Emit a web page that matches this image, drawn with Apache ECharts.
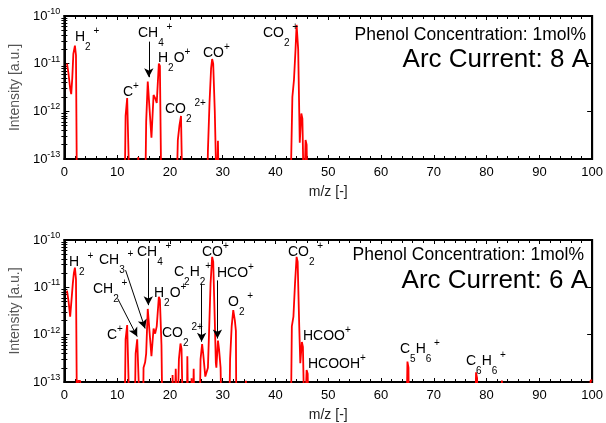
<!DOCTYPE html>
<html><head><meta charset="utf-8">
<script src="https://cdn.jsdelivr.net/npm/echarts@6/dist/echarts.min.js"></script>
<style>html,body{margin:0;padding:0;background:#fff}#c{width:606px;height:423px}</style>
</head><body><div id="c"></div>
<script>
// ---- data: Arc current 8 A (top panel) ----
const mz8 = [0.5,0.8,1.1,1.3,1.5,1.7,2.0,2.2,2.4,
  11.4,11.6,11.9,12.1,12.4,13.8,14.0,14.2,
  15.3,15.5,15.8,16.1,16.5,16.9,17.2,17.5,17.9,18.1,18.4,
  21.2,21.5,21.8,22.1,22.4,
  27.0,27.2,27.5,27.8,28.0,28.2,28.5,28.7,28.9,29.1,29.3,
  42.8,43.2,43.5,43.8,44.0,44.3,44.6,44.9,45.1,45.4,45.7,45.9,46.1];
const int8 = [1.0e-11,6e-12,3.0e-12,2.3e-12,5e-12,1.6e-11,2.4e-11,1.5e-11,1e-14,
  1e-14,8e-13,1.9e-12,1.8e-12,1e-14,1e-14,1.1e-13,1e-14,
  1e-14,6e-13,4.2e-12,4.3e-12,2.8e-13,2.2e-12,1.9e-12,1.5e-12,1.0e-11,9e-12,1e-14,
  1e-14,2.5e-13,5e-13,8e-13,1e-14,
  1e-14,1.5e-13,1.5e-12,8e-12,1.25e-11,1e-11,1e-12,1e-13,1e-14,2.4e-13,1e-14,
  1e-14,2e-12,4.5e-12,2e-11,6.5e-11,2e-11,2.2e-13,9e-13,7e-13,1e-14,2.5e-13,2.0e-13,1e-14];

// ---- data: Arc current 6 A (bottom panel) ----
const mz6 = [0.5,0.8,1.1,1.4,1.6,1.8,2.0,2.2,2.4,2.6,3.0,3.1,
  11.4,11.6,11.9,12.1,12.4,13.3,13.5,13.8,14.1,14.4,
  14.9,15.0,15.3,15.5,15.8,16.0,16.5,16.9,17.2,17.5,17.9,18.1,18.4,18.6,
  20.4,20.5,20.7,20.8,21.0,21.1,21.3,21.4,
  21.5,21.7,22.0,22.2,22.5,23.2,23.3,23.5,24.0,24.1,24.3,24.5,24.7,
  25.6,25.8,26.1,26.3,26.7,27.0,27.2,27.4,27.7,28.0,28.2,28.5,28.7,28.8,29.1,29.3,29.6,29.8,
  31.2,31.4,31.7,32.0,32.3,32.5,32.6,34.3,34.4,34.6,34.7,
  42.9,43.1,43.4,43.7,44.0,44.2,44.5,44.7,45.0,45.2,45.5,45.7,45.9,46.1,46.3,
  64.8,65.0,65.2,65.3,77.8,78.0,78.2,78.3,82.8,82.9,83.1,83.2,99.6,99.7,100];
const int6 = [8.5e-12,5e-12,2.4e-12,2.3e-12,1.2e-11,2.0e-11,2.6e-11,1.5e-11,1e-14,1.06e-13,1.06e-13,1e-14,
  1e-14,8e-13,1.6e-12,1.5e-12,1e-14,1e-14,4e-13,8e-13,7.5e-13,1e-14,
  1e-14,2.0e-13,2.6e-13,4e-13,3.5e-12,3.6e-12,3.5e-13,1.35e-12,1.05e-12,1.5e-12,6.3e-12,5.5e-12,6e-13,1e-14,
  1e-14,1.4e-13,1.4e-13,1e-14,1e-14,1.9e-13,1.9e-13,1e-14,
  1e-14,3e-13,6.5e-13,5e-13,1e-14,1e-14,3.5e-13,1e-14,1e-14,1.2e-13,1e-14,1.9e-13,1e-14,
  1e-14,3e-13,6.3e-13,4e-13,1.3e-13,1.2e-13,2e-13,1e-12,1.2e-11,4.4e-11,3.5e-11,2e-12,2.5e-13,2e-13,7.5e-13,5e-13,2e-13,1e-14,
  1e-14,3e-13,1.5e-12,3.3e-12,2e-12,1.2e-12,1e-14,1e-14,1.06e-13,1.06e-13,1e-14,
  1e-14,1.5e-12,2.4e-12,1.2e-11,4.4e-11,3.5e-11,1.5e-12,2.5e-13,7e-13,5.5e-13,1e-14,1e-14,1.8e-13,1.5e-13,1e-14,
  1e-14,2.7e-13,2.0e-13,1e-14,1e-14,1.6e-13,1.2e-13,1e-14,1e-14,1.08e-13,1.08e-13,1e-14,1e-14,1.08e-13,1.08e-13];

// tick labels
const xTickStep = 10;
const yDecades = [-13, -12, -11, -10];
const yMinorTicks = [];
for (let d = -13; d < -10; d++) for (let k = 2; k <= 9; k++) yMinorTicks.push(k * Math.pow(10, d));

const FONT = 'Liberation Sans, Arial, Helvetica, sans-serif';
const chart = echarts.init(document.getElementById('c'), null, {renderer: 'canvas'});

const grids = [
  {left: 63, right: 8, top: 16, height: 143},
  {left: 63, right: 8, top: 240, height: 144}
];

function xAxes(gi) {
  const base = {gridIndex: gi, type: 'value', min: 0, max: 100, interval: xTickStep,
    splitLine: {show: false},
    axisLine: {show: true, onZero: false, lineStyle: {color: '#000', width: 2}},
    axisTick: {show: true, inside: true, length: 4, lineStyle: {color: '#000', width: 1}},
    minorTick: {show: true, splitNumber: 5, length: 3, lineStyle: {color: '#000', width: 1}}};
  return [
    Object.assign({}, base, {position: 'bottom', name: 'm/z [-]', nameLocation: 'middle', nameGap: 26,
      nameTextStyle: {fontFamily: FONT, fontSize: 14, color: '#222'},
      axisLabel: {show: true, margin: 7, fontFamily: FONT, fontSize: 13, color: '#000'}}),
    Object.assign({}, base, {position: 'top', axisLabel: {show: false}})
  ];
}
function yAxes(gi) {
  const base = {gridIndex: gi, type: 'log', logBase: 10, min: 1e-13, max: 1e-10,
    splitLine: {show: false},
    axisLine: {show: true, onZero: false, lineStyle: {color: '#000', width: 2}},
    axisTick: {show: true, inside: true, length: 5, lineStyle: {color: '#000', width: 1}}};
  const minor = {gridIndex: gi, type: 'log', logBase: 10, min: 1e-13, max: 1e-10,
    splitLine: {show: false}, axisLine: {show: false},
    axisLabel: {show: false},
    axisTick: {show: true, inside: true, length: 3, customValues: yMinorTicks, lineStyle: {color: '#000', width: 1}}};
  return [
    Object.assign({}, base, {position: 'left', name: 'Intensity [a.u.]', nameLocation: 'middle', nameGap: 37,
      nameTextStyle: {fontFamily: FONT, fontSize: 14, color: '#555'},
      axisLabel: {show: true, margin: 4, fontFamily: FONT, fontSize: 13, color: '#000',
        formatter: v => { const e = Math.round(Math.log10(v)); return yDecades.indexOf(e) >= 0 ? '10{s|' + e + '}' : ''; },
        rich: {s: {fontSize: 9, fontFamily: FONT, verticalAlign: 'top', lineHeight: 18}}}}),
    Object.assign({}, base, {position: 'right', axisLabel: {show: false}}),
    Object.assign({}, minor, {position: 'left'}),
    Object.assign({}, minor, {position: 'right'})
  ];
}

function arrow(x1, y1, x2, y2) { return [{coord: [x1, y1]}, {coord: [x2, y2]}]; }

const series = [
  {type: 'line', xAxisIndex: 0, yAxisIndex: 0, data: mz8.map((m, i) => [m, int8[i]]),
   showSymbol: false, symbol: 'none', clip: true, lineStyle: {color: '#ff0000', width: 1.8}, silent: true,
   markLine: {silent: true, symbol: ['none', 'arrow'], symbolSize: [7, 9], label: {show: false},
     lineStyle: {color: '#000', width: 1, type: 'solid'},
     data: [arrow(16, 2.9e-11, 16, 5.2e-12)]}},
  {type: 'line', xAxisIndex: 2, yAxisIndex: 4, data: mz6.map((m, i) => [m, int6[i]]),
   showSymbol: false, symbol: 'none', clip: true, lineStyle: {color: '#ff0000', width: 1.8}, silent: true,
   markLine: {silent: true, symbol: ['none', 'arrow'], symbolSize: [7, 9], label: {show: false},
     lineStyle: {color: '#000', width: 1, type: 'solid'},
     data: [arrow(11.6, 2.3e-11, 15.3, 1.35e-12),
            arrow(10.1, 5.8e-12, 13.8, 9.1e-13),
            arrow(15.9, 4.1e-11, 15.9, 4.2e-12),
            arrow(26.0, 1.2e-11, 26.0, 7.1e-13),
            arrow(29.0, 1.4e-11, 29.0, 8.3e-13)]}}
];

const LH = 30;
const RICH = {
  b: {fontSize: 14, fontFamily: FONT, color: '#000', lineHeight: LH, verticalAlign: 'middle'},
  d: {fontSize: 10, fontFamily: FONT, color: '#000', lineHeight: LH, verticalAlign: 'bottom'},
  u: {fontSize: 10, fontFamily: FONT, color: '#000', lineHeight: LH, verticalAlign: 'top', padding: [4, 0, 0, 0]},
  up: {fontSize: 10, fontFamily: FONT, color: '#000', lineHeight: LH, verticalAlign: 'top', padding: [4, 0, 0, 3]}
};
function lab(x, y, text) {
  return {type: 'text', left: x, top: y - LH / 2, z: 100, silent: true,
    style: {text: text, rich: RICH, fill: '#000', font: '14px ' + FONT}};
}
function title(x, y, size, text) {
  return {type: 'text', right: 606 - x, top: y - size * 0.6, z: 100, silent: true,
    style: {text: text, fill: '#000', font: size + 'px ' + FONT}};
}

const graphic = [
  title(586, 37, 17.5, 'Phenol Concentration: 1mol%'),
  title(589, 62, 26, 'Arc Current: 8 A'),
  title(584, 257, 17.5, 'Phenol Concentration: 1mol%'),
  title(588, 283, 26, 'Arc Current: 6 A'),
  // top labels
  lab(75, 37, '{b|H}{d|2}{u| +}'),
  lab(138, 33, '{b|CH}{d|4}{u| +}'),
  lab(123, 92, '{b|C}{u|+}'),
  lab(158, 58, '{b|H}{d|2}{b|O}{u|+}'),
  lab(165, 109, '{b|CO}{d|2}{up|2+}'),
  lab(203, 53, '{b|CO}{u|+}'),
  lab(263, 33, '{b|CO}{d|2}{u| +}'),
  // bottom labels
  lab(69, 262, '{b|H}{d|2}{u| +}'),
  lab(99, 260, '{b|CH}{d|3}{u| +}'),
  lab(93, 289, '{b|CH}{d|2}{u| +}'),
  lab(137, 252, '{b|CH}{d|4}{u| +}'),
  lab(107, 335, '{b|C}{u|+}'),
  lab(154, 293, '{b|H}{d|2}{b|O}{u|+}'),
  lab(162, 333, '{b|CO}{d|2}{up|2+}'),
  lab(174, 272, '{b|C}{d|2}{b|H}{d|2}{u|+}'),
  lab(202, 252, '{b|CO}{u|+}'),
  lab(217, 273, '{b|HCO}{u|+}'),
  lab(228, 302, '{b|O}{d|2}{u| +}'),
  lab(288, 252, '{b|CO}{d|2}{u| +}'),
  lab(303, 336, '{b|HCOO}{u|+}'),
  lab(308, 364, '{b|HCOOH}{u|+}'),
  lab(400, 349, '{b|C}{d|5}{b|H}{d|6}{u| +}'),
  lab(466, 361, '{b|C}{d|6}{b|H}{d|6}{u| +}')
];

chart.setOption({
  animation: false,
  backgroundColor: '#fff',
  grid: grids.map(g => Object.assign({show: true, borderColor: '#000', borderWidth: 2, backgroundColor: 'transparent'}, g)),
  xAxis: xAxes(0).concat(xAxes(1)),
  yAxis: yAxes(0).concat(yAxes(1)),
  series: series,
  graphic: graphic
});
</script></body></html>
